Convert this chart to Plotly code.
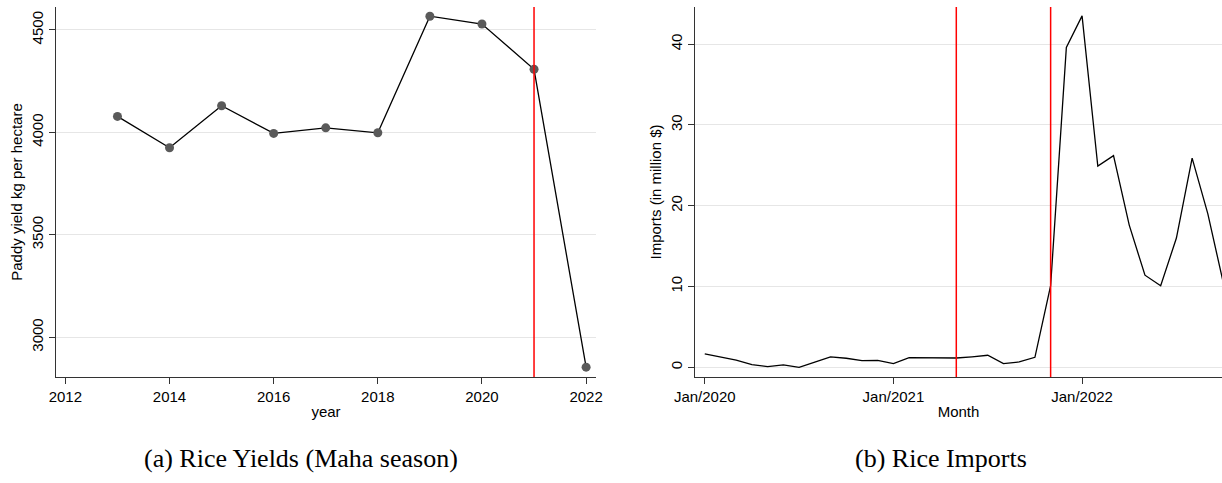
import plotly.graph_objects as go

# ---- Data: panel (a) ----
years = [2013, 2014, 2015, 2016, 2017, 2018, 2019, 2020, 2021, 2022]
yield_kg = [4078, 3925, 4130, 3995, 4022, 3998, 4567, 4529, 4308, 2854]
yield_vline = [2021]

# ---- Data: panel (b) ----  (month index 0 = Jan/2020)
month_idx = list(range(34))
imports_musd = [1.65, 1.3, 0.9, 0.33, 0.08, 0.29, 0.0, 0.65, 1.28, 1.12,
                0.83, 0.87, 0.45, 1.2, 1.18, 1.2, 1.15, 1.3, 1.49, 0.45,
                0.66, 1.24, 10.1, 39.6, 43.5, 24.9, 26.2, 17.6, 11.4, 10.1,
                16.0, 25.9, 19.0, 10.3]
imports_vlines = [16, 22]
month_tickvals = [0, 12, 24]
month_ticktext = ["Jan/2020", "Jan/2021", "Jan/2022"]

W, H = 1222, 483
fig = go.Figure()

fig.add_trace(go.Scatter(
    x=years, y=yield_kg, mode="lines+markers",
    line=dict(color="black", width=1.3),
    marker=dict(color="#5a5a5a", size=9),
    xaxis="x", yaxis="y", showlegend=False, cliponaxis=False))

fig.add_trace(go.Scatter(
    x=month_idx, y=imports_musd, mode="lines",
    line=dict(color="black", width=1.3),
    xaxis="x2", yaxis="y2", showlegend=False))

for v in yield_vline:
    fig.add_shape(type="line", xref="x", yref="y domain", x0=v, x1=v, y0=0, y1=1,
                  line=dict(color="red", width=1.5))
for v in imports_vlines:
    fig.add_shape(type="line", xref="x2", yref="y2 domain", x0=v, x1=v, y0=0, y1=1,
                  line=dict(color="red", width=1.5))

tick_font = dict(family="Liberation Sans, Arial, sans-serif", size=15, color="black")
axis_common = dict(showline=True, linecolor="#333333", linewidth=1.3, ticks="outside",
                   ticklen=6, tickcolor="#333333", tickwidth=1.2, tickfont=tick_font,
                   zeroline=False, automargin=False)

fig.update_layout(
    width=W, height=H,
    margin=dict(l=0, r=0, t=7, b=106),
    paper_bgcolor="white", plot_bgcolor="white",
    font=tick_font,
    xaxis=dict(domain=[56 / W, 596 / W], range=[2011.82, 2022.19],
               tickvals=[2012, 2014, 2016, 2018, 2020, 2022], showgrid=False,
               title=dict(text="year", font=tick_font, standoff=2),
               anchor="y", **axis_common),
    yaxis=dict(range=[2806, 4612], tickvals=[3000, 3500, 4000, 4500], tickangle=-90,
               showgrid=True, gridcolor="#e6e6e6", gridwidth=1,
               title=dict(text="Paddy yield kg per hectare", font=tick_font, standoff=2),
               anchor="x", **axis_common),
    xaxis2=dict(domain=[695 / W, 1.0], range=[-0.62, 32.9],
                tickvals=month_tickvals, ticktext=month_ticktext, showgrid=False,
                title=dict(text="Month", font=tick_font, standoff=2),
                anchor="y2", **axis_common),
    yaxis2=dict(range=[-1.2, 44.6], tickvals=[0, 10, 20, 30, 40], tickangle=-90,
                showgrid=True, gridcolor="#e6e6e6", gridwidth=1,
                title=dict(text="Imports (in million $)", font=tick_font, standoff=2),
                anchor="x2", **axis_common),
)

cap_font = dict(family="Liberation Serif, Times New Roman, serif", size=26, color="black")
plot_h = H - 7 - 106
for txt, xpx in [("(a) Rice Yields (Maha season)", 301), ("(b) Rice Imports", 941)]:
    fig.add_annotation(text=txt, x=xpx / W, y=(H - 106 - 458) / plot_h,
                       xref="paper", yref="paper", showarrow=False, font=cap_font,
                       xanchor="center", yanchor="middle")

fig.write_html("out.html")
